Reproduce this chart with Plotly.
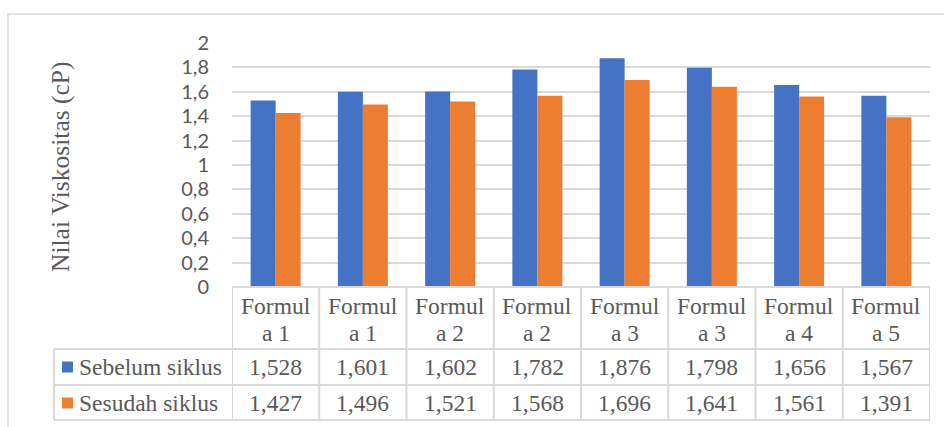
import plotly.graph_objects as go

# --- data -----------------------------------------------------------------
categories = ["Formula 1", "Formula 1", "Formula 2", "Formula 2",
              "Formula 3", "Formula 3", "Formula 4", "Formula 5"]
sebelum = [1.528, 1.601, 1.602, 1.782, 1.876, 1.798, 1.656, 1.567]
sesudah = [1.427, 1.496, 1.521, 1.568, 1.696, 1.641, 1.561, 1.391]
series_names = ["Sebelum siklus", "Sesudah siklus"]
y_ticks = [0, 0.2, 0.4, 0.6, 0.8, 1, 1.2, 1.4, 1.6, 1.8, 2]
y_tick_labels = ["0", "0,2", "0,4", "0,6", "0,8", "1", "1,2", "1,4", "1,6", "1,8", "2"]
y_title = "Nilai Viskositas (cP)"

# --- styling ----------------------------------------------------------------
BLUE = "#4472C4"
ORANGE = "#ED7D31"
GRID = "#d9d9d9"
TEXT = "#595959"
SERIF = "Liberation Serif"
SANS = "Lato"

W, H = 944, 427
PL, PR, PT, PB = 232, 930, 43, 287  # plot area in pixels


def xp(px):
    return (px - PL) / (PR - PL)


def yp(py):
    return (PB - py) / (PB - PT)


def cell_font():
    return dict(family=SERIF, size=23.5, color=TEXT)


x = list(range(len(categories)))

fig = go.Figure()
fig.add_trace(go.Bar(x=x, y=sebelum, name=series_names[0], marker_color=BLUE,
                     marker_line_width=0))
fig.add_trace(go.Bar(x=x, y=sesudah, name=series_names[1], marker_color=ORANGE,
                     marker_line_width=0))

shapes = []
annotations = []

# outer chart border
shapes.append(dict(type="rect", xref="paper", yref="paper",
                   x0=xp(8), x1=xp(960), y0=yp(440), y1=yp(14),
                   line=dict(color=GRID, width=1.5), fillcolor="rgba(0,0,0,0)",
                   layer="below"))

# data table: row boundaries
row_header_bottom, row1_bottom, row2_bottom = 349, 385, 420
shapes.append(dict(type="line", xref="x", yref="paper", x0=-0.5, x1=len(x) - 0.5,
                   y0=yp(PB), y1=yp(PB), line=dict(color=GRID, width=2)))
for py in (row_header_bottom, row1_bottom, row2_bottom):
    shapes.append(dict(type="line", xref="paper", yref="paper", x0=xp(54), x1=1,
                       y0=yp(py), y1=yp(py), line=dict(color=GRID, width=2)))
# column boundaries
for i in range(len(x) + 1):
    shapes.append(dict(type="line", xref="x", yref="paper", x0=i - 0.5, x1=i - 0.5,
                       y0=yp(PB), y1=yp(row2_bottom), line=dict(color=GRID, width=2)))
shapes.append(dict(type="line", xref="paper", yref="paper", x0=xp(54), x1=xp(54),
                   y0=yp(row_header_bottom), y1=yp(row2_bottom),
                   line=dict(color=GRID, width=2)))

# header cells, wrapped like the narrow table column
for i, cat in enumerate(categories):
    first, rest = cat[:6], cat[6:]
    annotations.append(dict(x=i, y=yp(306), xref="x", yref="paper", text=first,
                            showarrow=False, font=cell_font(), xanchor="center",
                            yanchor="middle"))
    annotations.append(dict(x=i, y=yp(333), xref="x", yref="paper", text=rest,
                            showarrow=False, font=cell_font(), xanchor="center",
                            yanchor="middle"))

# value rows with legend keys
rows = [(sebelum, series_names[0], BLUE, 367),
        (sesudah, series_names[1], ORANGE, 403)]
for vals, name, color, cy in rows:
    shapes.append(dict(type="rect", xref="paper", yref="paper",
                       x0=xp(62), x1=xp(73), y0=yp(cy + 5.5), y1=yp(cy - 5.5),
                       fillcolor=color, line=dict(width=0)))
    annotations.append(dict(x=xp(77), y=yp(cy), xref="paper", yref="paper",
                            text=name, showarrow=False, font=cell_font(),
                            xanchor="left", yanchor="middle"))
    for i, v in enumerate(vals):
        annotations.append(dict(x=i, y=yp(cy), xref="x", yref="paper",
                                text=f"{v:.3f}".replace(".", ","), showarrow=False,
                                font=cell_font(), xanchor="center", yanchor="middle"))

# y-axis title
annotations.append(dict(x=xp(60), y=yp(167), xref="paper", yref="paper",
                        text=y_title, textangle=-90, showarrow=False,
                        font=dict(family=SERIF, size=25.5, color=TEXT),
                        xanchor="center", yanchor="middle"))

fig.update_layout(
    width=W, height=H,
    margin=dict(l=PL, r=W - PR, t=PT, b=H - PB, pad=0),
    paper_bgcolor="white", plot_bgcolor="white",
    font=dict(family=SERIF, color=TEXT),
    barmode="group", bargap=0.427, bargroupgap=0,
    showlegend=False,
    shapes=shapes, annotations=annotations,
    xaxis=dict(range=[-0.5, len(x) - 0.5], showticklabels=False, showgrid=False,
               zeroline=False, showline=False, ticks=""),
    yaxis=dict(range=[0, 2], tickvals=y_ticks, ticktext=y_tick_labels,
               showgrid=True, gridcolor=GRID, gridwidth=1.5, zeroline=False,
               showline=False, ticks="", ticklabelstandoff=22,
               tickfont=dict(family=SANS, size=20, color=TEXT)),
)

fig.write_html("out.html")
